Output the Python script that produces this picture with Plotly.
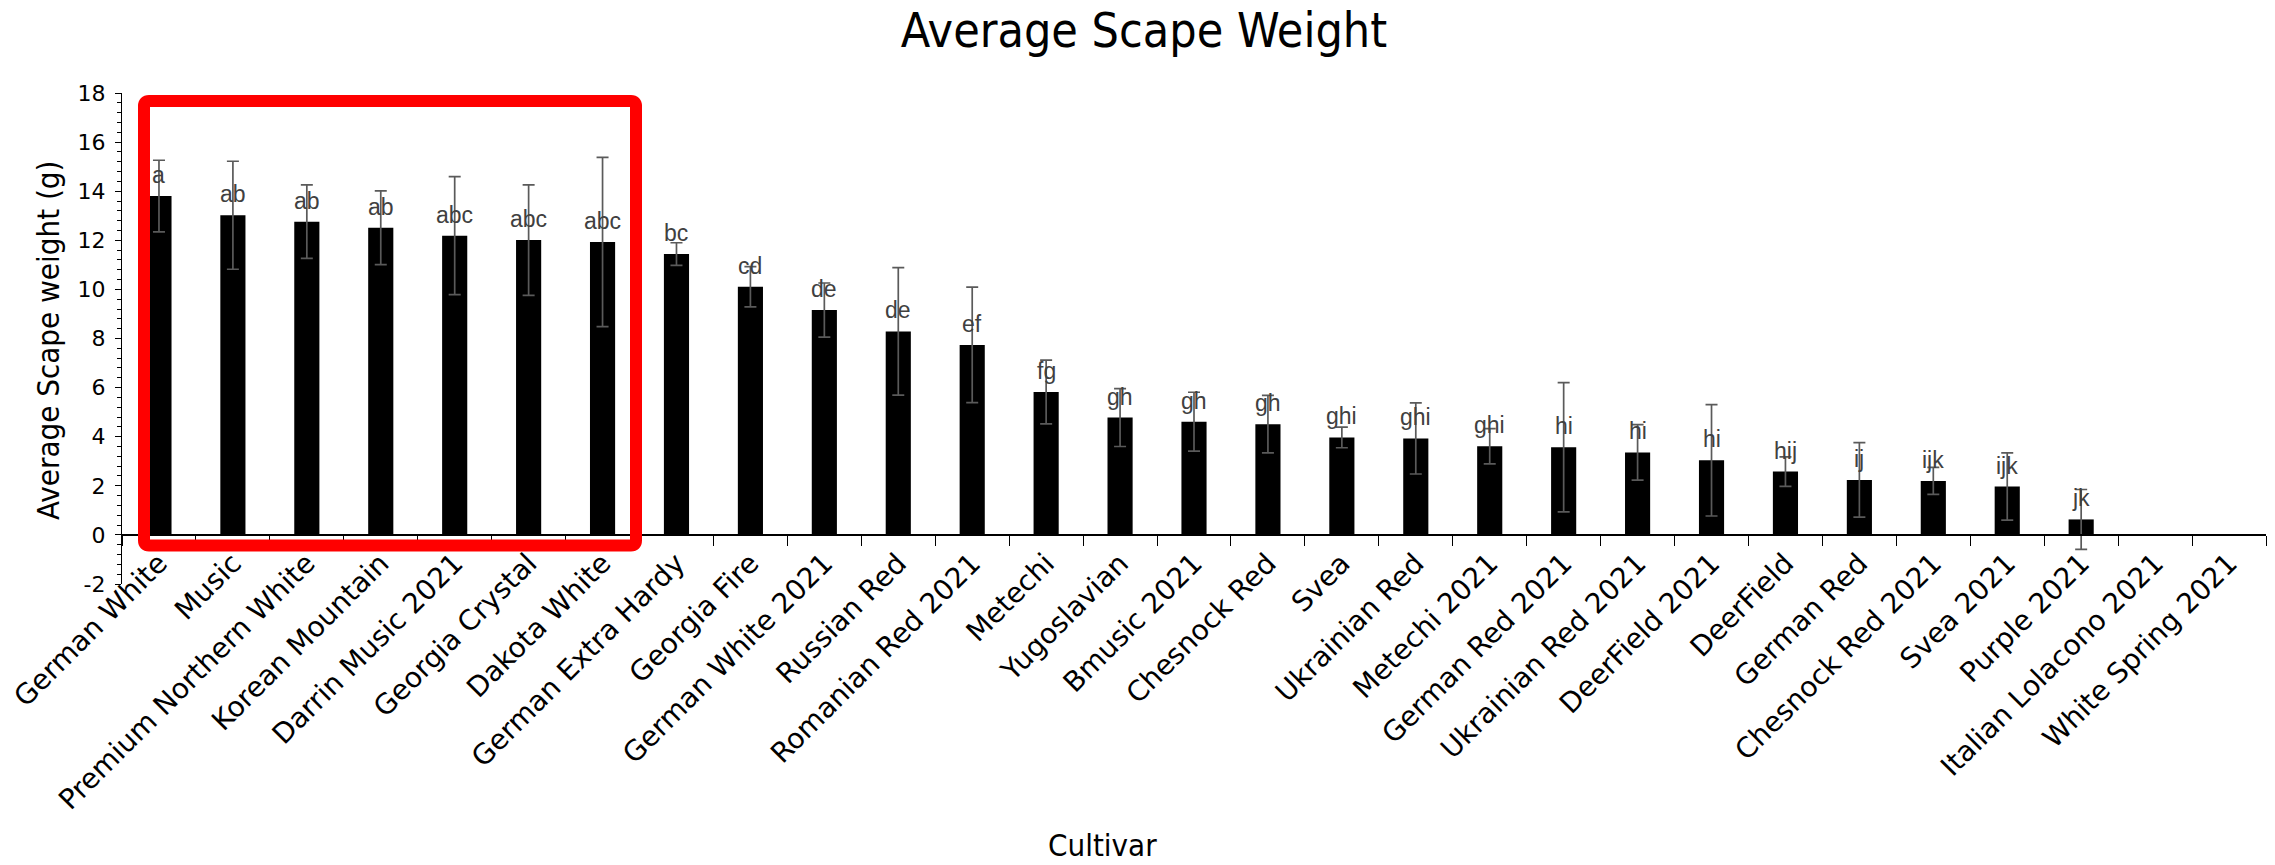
import plotly.graph_objects as go

# Cultivars, mean scape weight (g), standard error and mean-separation letters
cultivars = [
    "German White", "Music", "Premium Northern White", "Korean Mountain",
    "Darrin Music 2021", "Georgia Crystal", "Dakota White", "German Extra Hardy",
    "Georgia Fire", "German White 2021", "Russian Red", "Romanian Red 2021",
    "Metechi", "Yugoslavian", "Bmusic 2021", "Chesnock Red", "Svea",
    "Ukrainian Red", "Metechi 2021", "German Red 2021", "Ukrainian Red 2021",
    "DeerField 2021", "DeerField", "German Red", "Chesnock Red 2021",
    "Svea 2021", "Purple 2021", "Italian Lolacono 2021", "White Spring 2021",
]
mean_weight = [
    13.80, 13.02, 12.76, 12.51, 12.19, 12.01, 11.93, 11.44, 10.11, 9.16,
    8.29, 7.74, 5.82, 4.78, 4.61, 4.51, 3.97, 3.93, 3.61, 3.57,
    3.36, 3.04, 2.58, 2.24, 2.20, 1.97, 0.63, 0.0, 0.0,
]
std_error = [
    1.46, 2.20, 1.50, 1.50, 2.40, 2.25, 3.45, 0.46, 0.82, 1.10,
    2.60, 2.35, 1.30, 1.18, 1.20, 1.17, 0.42, 1.45, 0.72, 2.63,
    1.13, 2.27, 0.60, 1.52, 0.55, 1.37, 1.22, 0.0, 0.0,
]
letters = [
    "a", "ab", "ab", "ab", "abc", "abc", "abc", "bc", "cd", "de",
    "de", "ef", "fg", "gh", "gh", "gh", "ghi", "ghi", "ghi", "hi",
    "hi", "hi", "hij", "ij", "ijk", "ijk", "jk", "", "",
]
y_ticks = [-2, 0, 2, 4, 6, 8, 10, 12, 14, 16, 18]

W, H = 2275, 865
ML, MR, MT, MB = 122, 9, 93, 281
PW, PH = W - ML - MR, H - MT - MB
Y_MIN, Y_MAX = y_ticks[0], y_ticks[-1]
n = len(cultivars)

NARROW = "DejaVu Sans Condensed, DejaVu Sans, sans-serif"
WIDE = "DejaVu Sans, Verdana, sans-serif"

fig = go.Figure()

fig.add_trace(go.Bar(
    x=cultivars,
    y=mean_weight,
    marker=dict(color="#000000", line=dict(width=0)),
    error_y=dict(type="data", array=std_error, visible=True,
                 color="#5a5a5a", thickness=1.7, width=6),
    hoverinfo="x+y",
    showlegend=False,
))

# significance letters above each bar
for c, m, lab in zip(cultivars, mean_weight, letters):
    if lab:
        fig.add_annotation(
            x=c, y=m, xref="x", yref="y", text=lab, showarrow=False,
            yanchor="middle", yshift=21,
            font=dict(family="Liberation Sans, Arial", size=23, color="#404040"),
        )

# highlight box around the top group (pixel geometry -> paper fractions)
def px_x(p):
    return (p - ML) / PW

def px_y(p):
    return (MT + PH - p) / PH

x0, x1, y0, y1, r = 144, 636, 101, 545.5, 5
path = (
    f"M {px_x(x0 + r)},{px_y(y0)} L {px_x(x1 - r)},{px_y(y0)} "
    f"Q {px_x(x1)},{px_y(y0)} {px_x(x1)},{px_y(y0 + r)} "
    f"L {px_x(x1)},{px_y(y1 - r)} "
    f"Q {px_x(x1)},{px_y(y1)} {px_x(x1 - r)},{px_y(y1)} "
    f"L {px_x(x0 + r)},{px_y(y1)} "
    f"Q {px_x(x0)},{px_y(y1)} {px_x(x0)},{px_y(y1 - r)} "
    f"L {px_x(x0)},{px_y(y0 + r)} "
    f"Q {px_x(x0)},{px_y(y0)} {px_x(x0 + r)},{px_y(y0)} Z"
)
fig.add_shape(type="path", path=path, xref="paper", yref="paper",
              line=dict(color="#FF0000", width=12), layer="above")

# axis titles placed as free text
fig.add_annotation(
    text="Average Scape weight (g)", textangle=-90, showarrow=False,
    xref="paper", yref="paper", x=px_x(48), y=px_y(341),
    xanchor="center", yanchor="middle",
    font=dict(family=NARROW, size=31, color="#000000"),
)
fig.add_annotation(
    text="Cultivar", showarrow=False,
    xref="paper", yref="paper", x=px_x(1102), y=px_y(845),
    xanchor="center", yanchor="middle",
    font=dict(family=NARROW, size=31, color="#000000"),
)

# the category axis crosses the value axis at y = 0
zero_pos = (0 - Y_MIN) / (Y_MAX - Y_MIN)

fig.update_layout(
    width=W, height=H,
    margin=dict(l=ML, r=MR, t=MT, b=MB, pad=0, autoexpand=False),
    paper_bgcolor="white", plot_bgcolor="white",
    bargap=0.66,
    title=dict(
        text="Average Scape Weight", x=1144 / W, xref="container",
        xanchor="center", y=1 - 30 / H, yref="container", yanchor="middle",
        font=dict(family=NARROW, size=48, color="#000000"),
    ),
    xaxis=dict(
        range=[-0.5, n - 0.5], anchor="free", position=zero_pos, side="bottom",
        showline=True, linecolor="#000000", linewidth=1.5, automargin=False,
        ticks="outside", ticklen=10, tickwidth=1.2, tickcolor="#000000",
        tickson="boundaries", showgrid=False, zeroline=False,
        tickangle=-45,
        tickfont=dict(family=WIDE, size=28, color="#000000"),
    ),
    yaxis=dict(
        range=[Y_MIN, Y_MAX], tickvals=y_ticks,
        ticktext=[str(v) for v in y_ticks], automargin=False,
        showline=True, linecolor="#000000", linewidth=1.2,
        ticks="outside", ticklen=6, tickcolor="#000000", tickwidth=1.2,
        minor=dict(dtick=0.4, ticks="outside", ticklen=4,
                   tickcolor="#000000", tickwidth=1),
        showgrid=False, zeroline=False, ticklabelstandoff=5,
        tickfont=dict(family=WIDE, size=22, color="#000000"),
    ),
)

fig.write_html("out.html")
